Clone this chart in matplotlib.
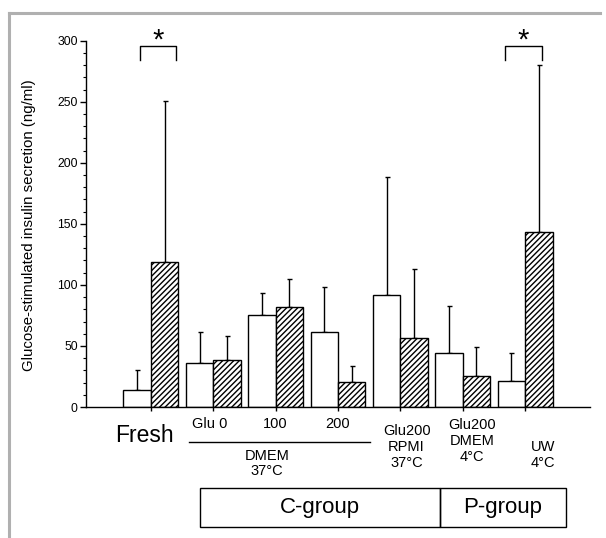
import matplotlib
matplotlib.use("Agg")
import matplotlib.pyplot as plt
import matplotlib.transforms as mtransforms
from matplotlib.patches import Rectangle
from matplotlib.lines import Line2D
import numpy as np

plt.rcParams['font.family'] = ['Liberation Sans', 'DejaVu Sans']
plt.rcParams['hatch.linewidth'] = 1.0

# ---- data ----
categories = ['Fresh', 'Glu 0', '100', '200',
              'Glu200\nRPMI\n37°C', 'Glu200\nDMEM\n4°C', 'UW\n4°C']
white_means = [13.7, 36.3, 75.1, 61.4, 91.8, 44.0, 21.4]
white_err_top = [30.0, 61.2, 93.6, 98.6, 188.5, 82.5, 44.3]
hatched_means = [119.0, 38.2, 81.7, 20.6, 56.5, 25.4, 143.5]
hatched_err_top = [250.5, 57.9, 105.0, 33.7, 113.0, 49.4, 280.5]
yticks = [0, 50, 100, 150, 200, 250, 300]
ylabel = 'Glucose-stimulated insulin secretion (ng/ml)'
significant_groups = [0, 6]
dmem_label = 'DMEM\n37°C'
group_boxes = ['C-group', 'P-group']

W, H = 606, 538
fig = plt.figure(figsize=(W / 100, H / 100), dpi=100)
ax = fig.add_axes([86 / W, 1 - 407 / H, (590 - 86) / W, (407 - 40.7) / H])

x = np.arange(len(categories))
bw = 0.44
white_err = np.array(white_err_top) - np.array(white_means)
hatched_err = np.array(hatched_err_top) - np.array(hatched_means)

ax.bar(x - bw / 2, white_means, bw, color='white', edgecolor='black', linewidth=1.0, zorder=2)
ax.bar(x + bw / 2, hatched_means, bw, color='white', edgecolor='black', linewidth=1.0,
       hatch='//////', zorder=2)
ax.errorbar(x - bw / 2, white_means, yerr=[np.zeros_like(white_err), white_err], fmt='none',
            ecolor='black', elinewidth=1.0, capsize=1.8, capthick=1.0, zorder=1)
ax.errorbar(x + bw / 2, hatched_means, yerr=[np.zeros_like(hatched_err), hatched_err], fmt='none',
            ecolor='black', elinewidth=1.0, capsize=1.8, capthick=1.0, zorder=1)

ax.set_xlim(-1.04, 7.04)
ax.set_ylim(0, 300)
ax.set_yticks(yticks)
ax.set_yticks(np.arange(0, 301, 10), minor=True)
ax.tick_params(axis='y', which='major', direction='out', length=4, width=1, labelsize=8.8, pad=2)
ax.tick_params(axis='y', which='minor', direction='out', length=2, width=0.8)
ax.set_xticks(x)
ax.tick_params(axis='x', direction='out', length=3, width=1, labelbottom=False)
for s in ['top', 'right']:
    ax.spines[s].set_visible(False)
for s in ['left', 'bottom']:
    ax.spines[s].set_linewidth(1.0)
ax.set_ylabel(ylabel, fontsize=10.8)
ax.yaxis.set_label_coords((35.5 - 86) / (590 - 86), (407 - 225) / (407 - 40.7))

# significance brackets
offsets = {0: (-0.18, 0.40), 6: (-0.32, 0.27)}
for g in significant_groups:
    l, r = offsets[g]
    ax.plot([g + l, g + l, g + r, g + r], [284.5, 296, 296, 284.5], color='black',
            lw=1.0, clip_on=False)
    ax.text(g + (l + r) / 2, 300.5, '*', ha='center', va='center', fontsize=21,
            clip_on=False)

# labels below axis (x in data, y in figure pixels)
tr = mtransforms.blended_transform_factory(ax.transData, fig.transFigure)
def fy(py):
    return 1 - py / H

ax.text(-0.1, fy(436), categories[0], transform=tr, ha='center', va='center', fontsize=16.5)
for i in (1, 2, 3):
    ax.text(i - 0.05 if i == 1 else i, fy(424), categories[i], transform=tr, ha='center',
            va='center', fontsize=10.5)
ax.add_line(Line2D([0.61, 3.52], [fy(442), fy(442)], transform=tr, color='black', lw=1.0,
                   clip_on=False))
for j, line in enumerate(dmem_label.split('\n')):
    ax.text(1.86, fy(456 + 15 * j), line, transform=tr, ha='center', va='center', fontsize=10.5)
multi = [(4, 4.10, 431), (5, 5.15, 425), (6, 6.28, 447)]
for idx, xc, y0 in multi:
    for j, line in enumerate(categories[idx].split('\n')):
        ax.text(xc, fy(y0 + 16 * j), line, transform=tr, ha='center', va='center',
                fontsize=10.5)

# group boxes
fx0, fdiv, fx1 = 0.79, 4.64, 6.65
ax.add_patch(Rectangle((fx0, fy(527)), fdiv - fx0, fy(488) - fy(527), transform=tr,
                       fill=False, edgecolor='black', lw=1.0, clip_on=False))
ax.add_patch(Rectangle((fdiv, fy(527)), fx1 - fdiv, fy(488) - fy(527), transform=tr,
                       fill=False, edgecolor='black', lw=1.0, clip_on=False))
ax.text((fx0 + fdiv) / 2, fy(507.5), group_boxes[0], transform=tr, ha='center', va='center',
        fontsize=16)
ax.text((fdiv + fx1) / 2, fy(507.5), group_boxes[1], transform=tr, ha='center', va='center',
        fontsize=16)

# scan border
fig.add_artist(Line2D([9 / W, 600 / W], [fy(13), fy(13)], color='#b0b0b0', lw=2.2))
fig.add_artist(Line2D([9 / W, 9 / W], [fy(13), 0], color='#b0b0b0', lw=2.2))

fig.savefig('out.png', dpi=100)
